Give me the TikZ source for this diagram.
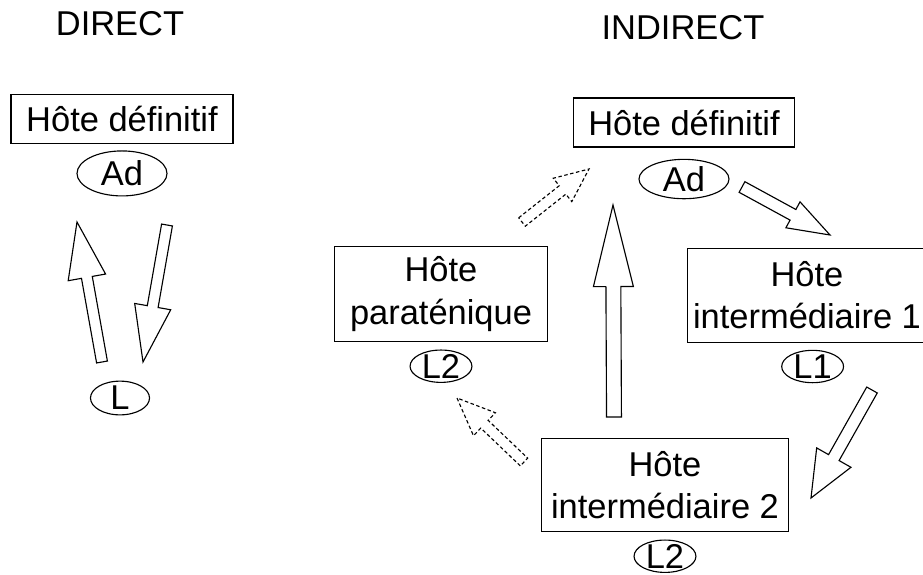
\documentclass[tikz,border=0pt]{standalone}
\usepackage{fontspec}
\setmainfont{Liberation Sans}
\usetikzlibrary{calc,positioning,shapes.geometric}

% hollow block arrow: [style]{tail}{tip}{half shaft}{half head}{head length}
\newcommand{\blockarrow}[6][]{%
  \coordinate (hb) at ($(#3)!#6!(#2)$);
  \draw[#1] ($(#2)!#4!90:(#3)$) -- ($(hb)!#4!90:(#3)$) -- ($(hb)!#5!90:(#3)$)
    -- (#3) -- ($(hb)!#5!-90:(#3)$) -- ($(hb)!#4!-90:(#3)$) -- ($(#2)!#4!-90:(#3)$) -- cycle;
}

\begin{document}
\begin{tikzpicture}[x=0.025cm, y=-0.025cm,
    font=\fontsize{24.5}{30}\selectfont,
    host/.style={rectangle, draw, line width=0.9pt, align=center, inner sep=0pt},
    stage/.style={ellipse, draw, line width=0.8pt, inner xsep=0pt, inner ysep=-1.5pt},
    flow/.style={draw, line width=0.8pt, line join=miter},
    maybe/.style={flow, dash pattern=on 2.5pt off 1.8pt}]
    \useasboundingbox (0,0) rectangle (923,574);

    % direct cycle
    \node (direct) at (120,24) {DIRECT};
    \node[host, minimum width=158pt, minimum height=34.7pt] (defd) at (122,119) {Hôte définitif};
    \node[stage, minimum width=64pt, minimum height=32pt, below=4.5pt of defd] (add) {Ad};
    \node[stage, minimum width=42pt, minimum height=24pt] (ld) at (120,398) {L};

    \coordinate (back-s) at (102,362);
    \coordinate (back-e) at (77,222);
    \coordinate (out-s) at (167,225);
    \coordinate (out-e) at (143,362);
    \blockarrow[flow]{back-s}{back-e}{3.9pt}{13.5pt}{40pt}
    \blockarrow[flow]{out-s}{out-e}{3.9pt}{13pt}{40pt}

    % indirect cycle
    \node (indirect) at (683,28) {INDIRECT};
    \node[host, minimum width=157pt, minimum height=34.7pt] (defi) at (684,122.5) {Hôte définitif};
    \node[stage, minimum width=64pt, minimum height=28pt, below=8pt of defi] (adi) {Ad};
    \node[host, minimum width=151.7pt, minimum height=68pt] (para) at (441,294) {Hôte\\paraténique};
    \node[stage, minimum width=44pt, minimum height=23pt, below=5pt of para] (l2p) {L2};
    \node[host, minimum width=170pt, minimum height=67.3pt] (inter1) at (807,295.5) {Hôte\\intermédiaire 1};
    \node[stage, minimum width=44pt, minimum height=23pt, below=4.5pt of inter1, xshift=4pt] (l1) {L1};
    \node[host, minimum width=175.8pt, minimum height=66.6pt] (inter2) at (665,485) {Hôte\\intermédiaire 2};
    \node[stage, minimum width=44pt, minimum height=23pt, below=5pt of inter2] (l2i) {L2};

    \coordinate (mid-s) at (614,417);
    \coordinate (mid-e) at (613,205);
    \coordinate (eat-s) at (742,187);
    \coordinate (eat-e) at (830,235);
    \coordinate (pass-s) at (872,390);
    \coordinate (pass-e) at (811,498);
    \coordinate (para-s) at (522,222);
    \coordinate (para-e) at (589,169);
    \coordinate (hold-s) at (524,462);
    \coordinate (hold-e) at (457,398);
    \blockarrow[flow]{mid-s}{mid-e}{5.3pt}{14.2pt}{58pt}
    \blockarrow[flow]{eat-s}{eat-e}{4.3pt}{10.5pt}{30pt}
    \blockarrow[flow]{pass-s}{pass-e}{4.3pt}{14pt}{33pt}
    \blockarrow[maybe]{para-s}{para-e}{3.8pt}{10.6pt}{24pt}
    \blockarrow[maybe]{hold-s}{hold-e}{3.8pt}{11.3pt}{27pt}
\end{tikzpicture}
\end{document}
